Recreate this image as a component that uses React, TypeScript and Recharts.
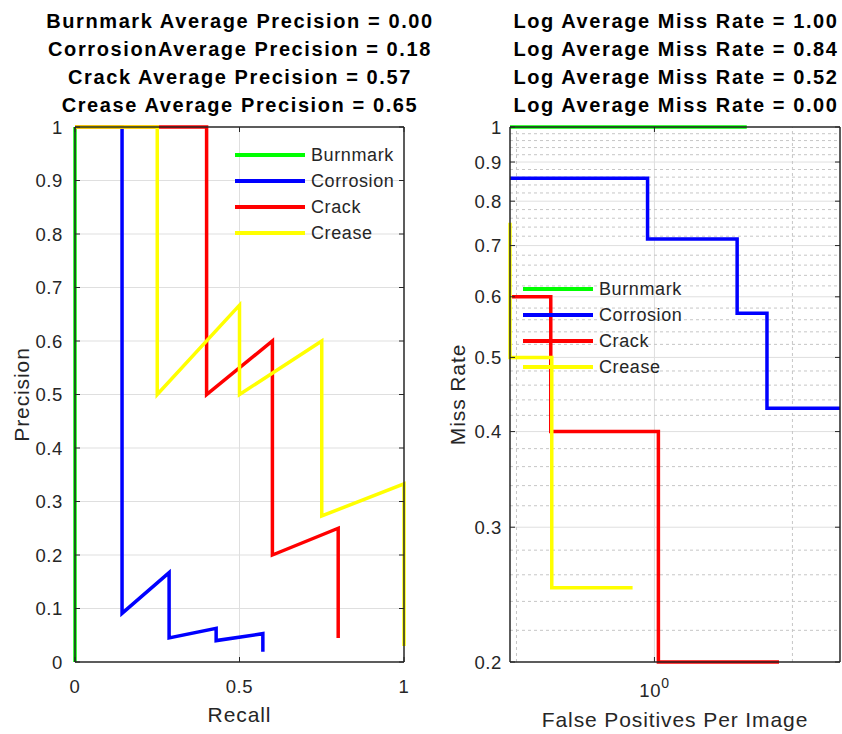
import { LineChart, Line, XAxis, YAxis, CartesianGrid, Legend, ReferenceLine } from "recharts";

const FONT = '"Liberation Sans", Arial, Helvetica, sans-serif';
const AXIS = "#262626";
const GRID = "#dfdfdf";
const MINOR = "#c6c6c6";

const classNames = ["Burnmark", "Corrosion", "Crack", "Crease"];
const classColors = ["#00ff00", "#0000ff", "#ff0000", "#ffff00"];
const averagePrecision = ["0.00", "0.18", "0.57", "0.65"];
const logAverageMissRate = ["1.00", "0.84", "0.52", "0.00"];

// precision / recall curves
const burnmarkRecall = [0, 0];
const burnmarkPrecision = [1, 0];
const corrosionRecall = [0, 0.143, 0.143, 0.286, 0.286, 0.429, 0.429, 0.571, 0.571];
const corrosionPrecision = [1, 1, 0.091, 0.167, 0.045, 0.063, 0.04, 0.053, 0.019];
const crackRecall = [0, 0.4, 0.4, 0.6, 0.6, 0.8, 0.8];
const crackPrecision = [1, 1, 0.5, 0.6, 0.2, 0.25, 0.045];
const creaseRecall = [0, 0.25, 0.25, 0.5, 0.5, 0.75, 0.75, 1, 1];
const creasePrecision = [1, 1, 0.5, 0.667, 0.5, 0.6, 0.273, 0.333, 0.03];

// miss rate vs false positives per image
const burnmarkFppi = [0.484, 1.59];
const burnmarkMiss = [1, 1];
const corrosionFppi = [0.484, 0.966, 0.966, 1.515, 1.515, 1.76, 1.76, 2.54];
const corrosionMiss = [0.857, 0.857, 0.714, 0.714, 0.571, 0.571, 0.429, 0.429];
const crackFppi = [0.489, 0.594, 0.594, 1.02, 1.02, 1.87];
const crackMiss = [0.6, 0.6, 0.4, 0.4, 0.2, 0.2];
const creaseFppi = [0.484, 0.484, 0.597, 0.597, 0.896];
const creaseMiss = [0.75, 0.5, 0.5, 0.25, 0.25];

const recallTicks = [0, 0.5, 1];
const precisionTicks = [0, 0.1, 0.2, 0.3, 0.4, 0.5, 0.6, 0.7, 0.8, 0.9, 1];
const fppiDomain = [0.484, 2.54];
const fppiTicks = [1];
const fppiMinor = [0.5, 2];
const missDomain = [0.2, 1];
const missTicks = [0.2, 0.3, 0.4, 0.5, 0.6, 0.7, 0.8, 0.9, 1];
const missMinor = missTicks.slice(0, -1).flatMap((m) => [2, 4, 6, 8].map((k) => +(m + k / 100).toFixed(2)));

const toPoints = (xs: number[], ys: number[]) => xs.map((x, i) => ({ x, y: ys[i] }));

const prSeries = [
  toPoints(burnmarkRecall, burnmarkPrecision),
  toPoints(corrosionRecall, corrosionPrecision),
  toPoints(crackRecall, crackPrecision),
  toPoints(creaseRecall, creasePrecision),
];
const mrSeries = [
  toPoints(burnmarkFppi, burnmarkMiss),
  toPoints(corrosionFppi, corrosionMiss),
  toPoints(crackFppi, crackMiss),
  toPoints(creaseFppi, creaseMiss),
];

const tickStyle = { fontSize: 18.5, fill: AXIS, fontFamily: FONT, letterSpacing: 0.6 };
const labelStyle = { fontSize: 21, fill: AXIS, fontFamily: FONT, textAnchor: "middle" as const, letterSpacing: 0.9 };
const boxLine = { stroke: AXIS, strokeWidth: 1.5 };
const blank = () => "";

function LegendBox({ payload }: { payload?: Array<{ value: string; color: string; type?: string }> }) {
  return (
    <div style={{ fontFamily: FONT, fontSize: 18, letterSpacing: 0.6, color: AXIS }}>
      {(payload ?? [])
        .filter((p) => p.type !== "none" && classNames.includes(p.value))
        .map((p) => (
          <div key={p.value} style={{ display: "flex", alignItems: "center", height: 26 }}>
            <svg width={70} height={26}>
              <line x1={0} x2={70} y1={13} y2={13} stroke={p.color} strokeWidth={4} />
            </svg>
            <span style={{ marginLeft: 6, lineHeight: "26px", whiteSpace: "nowrap" }}>{p.value}</span>
          </div>
        ))}
    </div>
  );
}

function PowerTick({ x, y, payload }: { x?: number; y?: number; payload?: { value: number } }) {
  const exp = Math.round(Math.log10(payload?.value ?? 1));
  return (
    <text x={x} y={y} textAnchor="middle" fill={AXIS} fontSize={18.5} fontFamily={FONT} style={{ letterSpacing: 0.6 }}>
      <tspan dy={17}>10</tspan>
      <tspan dy={-9} fontSize={14}>{exp}</tspan>
    </text>
  );
}

function Title({ lines, center }: { lines: string[]; center: number }) {
  return (
    <div
      style={{
        position: "absolute",
        left: center - 210,
        top: 7,
        width: 420,
        textAlign: "center",
        fontFamily: FONT,
        fontWeight: "bold",
        fontSize: 20,
        letterSpacing: 1.6,
        lineHeight: "28px",
        color: "#000",
        whiteSpace: "nowrap",
      }}
    >
      {lines.map((l) => (
        <div key={l}>{l}</div>
      ))}
    </div>
  );
}

export default function App() {
  const prTitles = classNames.map((n, i) =>
    n === "Corrosion" ? `${n}Average Precision = ${averagePrecision[i]}` : `${n} Average Precision = ${averagePrecision[i]}`
  );
  const mrTitles = logAverageMissRate.map((v) => `Log Average Miss Rate = ${v}`);

  return (
    <div style={{ position: "absolute", left: 0, top: 0, width: 842, height: 734, overflow: "hidden", background: "#fff" }}>
      <div style={{ position: "absolute", left: 0, top: 0 }}>
        <LineChart width={420} height={734} margin={{ top: 126, right: 15, bottom: 12, left: 35 }}>
          <CartesianGrid stroke={GRID} horizontalValues={precisionTicks.slice(1, -1)} verticalValues={[0.5]} />
          <XAxis
            type="number"
            dataKey="x"
            domain={[0, 1]}
            ticks={recallTicks}
            height={60}
            tickSize={-5}
            tickMargin={23}
            stroke={AXIS}
            axisLine={boxLine}
            tick={tickStyle}
            label={{ value: "Recall", position: "insideBottom", offset: 0, style: labelStyle }}
          />
          <YAxis
            type="number"
            domain={[0, 1]}
            ticks={precisionTicks}
            width={40}
            tickSize={-5}
            tickMargin={17}
            stroke={AXIS}
            axisLine={boxLine}
            tick={tickStyle}
            label={{ value: "Precision", angle: -90, position: "insideLeft", offset: -13, style: labelStyle }}
          />
          {/* top and right edges of the box, ticks pointing inward */}
          <XAxis xAxisId="top" orientation="top" type="number" dataKey="x" domain={[0, 1]} ticks={recallTicks} height={1} tickSize={-5} tickFormatter={blank} stroke={AXIS} axisLine={boxLine} />
          <YAxis yAxisId="right" orientation="right" type="number" domain={[0, 1]} ticks={precisionTicks} width={1} tickSize={-5} tickFormatter={blank} stroke={AXIS} axisLine={boxLine} />
          <Line xAxisId="top" yAxisId="right" data={prSeries[0]} dataKey="y" name="box" stroke="none" dot={false} legendType="none" isAnimationActive={false} />
          {prSeries.map((d, i) => (
            <Line
              key={classNames[i]}
              data={d}
              dataKey="y"
              name={classNames[i]}
              type="linear"
              stroke={classColors[i]}
              strokeWidth={3.5}
              dot={false}
              isAnimationActive={false}
            />
          ))}
          <Legend layout="vertical" align="center" verticalAlign="middle" wrapperStyle={{ left: 235, top: 142, width: "auto" }} content={<LegendBox />} />
        </LineChart>
      </div>

      <div style={{ position: "absolute", left: 420, top: 0 }}>
        <LineChart width={422} height={734} margin={{ top: 126, right: 1, bottom: 12, left: 50 }}>
          <CartesianGrid stroke={GRID} horizontalValues={missTicks.slice(1, -1)} verticalValues={fppiTicks} />
          {missMinor.map((v) => (
            <ReferenceLine key={`my${v}`} y={v} stroke={MINOR} strokeDasharray="3 3" />
          ))}
          {fppiMinor.map((v) => (
            <ReferenceLine key={`mx${v}`} x={v} stroke={MINOR} strokeDasharray="3 3" />
          ))}
          <XAxis
            type="number"
            dataKey="x"
            scale="log"
            domain={fppiDomain}
            ticks={fppiTicks}
            height={60}
            tickSize={-5}
            tickMargin={23}
            stroke={AXIS}
            axisLine={boxLine}
            tick={<PowerTick />}
            label={{ value: "False Positives Per Image", position: "insideBottom", offset: -5, style: labelStyle }}
          />
          <YAxis
            type="number"
            scale="log"
            domain={missDomain}
            ticks={missTicks}
            width={40}
            tickSize={-5}
            tickMargin={13}
            stroke={AXIS}
            axisLine={boxLine}
            tick={tickStyle}
            tickFormatter={(v: number) => String(v)}
            label={{ value: "Miss Rate", angle: -90, position: "insideLeft", offset: -12, style: labelStyle }}
          />
          <XAxis xAxisId="top" orientation="top" type="number" dataKey="x" scale="log" domain={fppiDomain} ticks={fppiTicks} height={1} tickSize={-5} tickFormatter={blank} stroke={AXIS} axisLine={boxLine} />
          <YAxis yAxisId="right" orientation="right" type="number" scale="log" domain={missDomain} ticks={missTicks} width={1} tickSize={-5} tickFormatter={blank} stroke={AXIS} axisLine={boxLine} />
          <Line xAxisId="top" yAxisId="right" data={mrSeries[0]} dataKey="y" name="box" stroke="none" dot={false} legendType="none" isAnimationActive={false} />
          {mrSeries.map((d, i) => (
            <Line
              key={classNames[i]}
              data={d}
              dataKey="y"
              name={classNames[i]}
              type="linear"
              stroke={classColors[i]}
              strokeWidth={3.5}
              dot={false}
              isAnimationActive={false}
            />
          ))}
          <Legend layout="vertical" align="center" verticalAlign="middle" wrapperStyle={{ left: 103, top: 276, width: "auto" }} content={<LegendBox />} />
        </LineChart>
      </div>

      <Title lines={prTitles} center={240} />
      <Title lines={mrTitles} center={676} />
    </div>
  );
}
